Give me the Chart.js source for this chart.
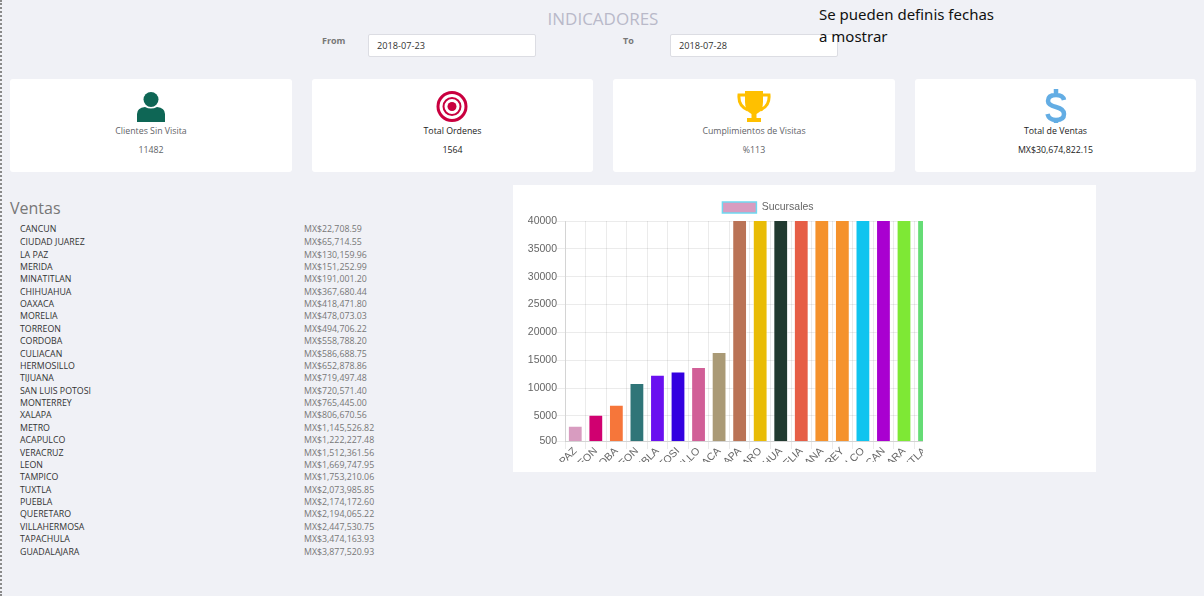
<!DOCTYPE html>
<html>
<head>
<meta charset="utf-8">
<title>Indicadores</title>
<script src="https://cdn.jsdelivr.net/npm/chart.js@4"></script>
<style>
  html, body { margin: 0; padding: 0; }
  body { width: 1204px; height: 596px; position: relative; overflow: hidden; background: #f0f1f6; font-family: "Open Sans", sans-serif; color: #5f6368; }
  .abs { position: absolute; white-space: nowrap; }
  #dots { left: 0; top: 0; width: 0; height: 596px; border-left: 2px dotted #8a8a8a; }
  #title { left: 403px; width: 400px; top: 7px; text-align: center; font-size: 17px; color: #b9b9c9; }
  #note { left: 819px; top: 3px; font-family: "Noto Sans", sans-serif; font-size: 15px; line-height: 22px; color: #111; z-index: 2; }
  .lab { font-size: 9px; font-weight: 700; color: #777; }
  .inp { height: 21px; line-height: 21px; background: #fff; border: 1px solid #dcdde3; border-radius: 2px; font-size: 9.2px; color: #333; padding-left: 8px; }
  .card { top: 79px; height: 93px; background: #fff; border-radius: 3px; text-align: center; font-size: 8.8px; }
  .card svg { position: absolute; top: 10px; left: 50%; margin-left: -18px; width: 36px; height: 36px; overflow: visible; }
  .card .name { position: absolute; top: 46px; left: 0; right: 0; }
  .card .val { position: absolute; top: 65px; left: 0; right: 0; }
  .dark { color: #222; }
  #ventas { left: 10px; top: 197px; font-size: 16px; color: #777; }
  .row { font-size: 8.8px; height: 12px; line-height: 12px; }
  .row.n { left: 20px; color: #333; }
  .row.v { left: 304px; color: #777; }
  #panel { left: 513px; top: 185px; width: 583px; height: 287px; background: #fff; }
  #clip { position: absolute; left: 0; top: 0; width: 410px; height: 277px; overflow: hidden; }
  #wrap { position: absolute; left: 0; top: 0; width: 510px; height: 277px; }
</style>
</head>
<body>
<div id="dots" class="abs"></div>
<div id="title" class="abs">INDICADORES</div>
<div id="note" class="abs">Se pueden definis fechas<br>a mostrar</div>
<div class="abs lab" style="left:322px;top:34px">From</div>
<div class="abs inp" style="left:368px;top:34px;width:158px">2018-07-23</div>
<div class="abs lab" style="left:623px;top:34px">To</div>
<div class="abs inp" style="left:670px;top:34px;width:158px">2018-07-28</div>

<div class="abs card" style="left:10px;width:282px">
  <svg viewBox="0 0 36 36"><circle cx="18" cy="10.5" r="7.5" fill="#0e6655"/><path d="M4 33 V25 Q4 19 12 18 Q18 21 24 18 Q32 19 32 25 V33 Z" fill="#0e6655"/></svg>
  <div class="name">Clientes Sin Visita</div><div class="val">11482</div>
</div>
<div class="abs card dark" style="left:312px;width:281px">
  <svg viewBox="0 0 36 36" style="margin-left:-18.5px"><circle cx="18" cy="17.5" r="14" fill="none" stroke="#c9003f" stroke-width="3"/><circle cx="18" cy="17.5" r="8.5" fill="none" stroke="#c9003f" stroke-width="2"/><circle cx="18" cy="17.5" r="4.5" fill="#c9003f"/></svg>
  <div class="name">Total Ordenes</div><div class="val">1564</div>
</div>
<div class="abs card" style="left:613px;width:282px">
  <svg viewBox="0 0 36 36"><path d="M9 2 H27 V13 Q27 22 20.5 25 V29 H25 V33 H11 V29 H15.5 V25 Q9 22 9 13 Z" fill="#ffc000"/><path d="M9 6 H3 Q2 17 12 21 M27 6 H33 Q34 17 24 21" fill="none" stroke="#ffc000" stroke-width="3"/></svg>
  <div class="name">Cumplimientos de Visitas</div><div class="val">%113</div>
</div>
<div class="abs card dark" style="left:915px;width:281px">
  <svg viewBox="0 0 36 36"><path d="M18 0 V6 M18 31 V34 M26 11 Q25 6 18 6 Q10 6 10 12 Q10 16 18 18 Q26 20 26 25 Q26 31 18 31 Q11 31 9.5 25" fill="none" stroke="#63ade4" stroke-width="4.5"/></svg>
  <div class="name">Total de Ventas</div><div class="val">MX$30,674,822.15</div>
</div>

<div id="ventas" class="abs">Ventas</div>
<div id="table"></div>

<div id="panel" class="abs">
  <div id="clip"><div id="wrap"><canvas id="chart"></canvas></div></div>
</div>

<script>
const branchNames = ["CANCUN", "CIUDAD JUAREZ", "LA PAZ", "MERIDA", "MINATITLAN", "CHIHUAHUA", "OAXACA", "MORELIA", "TORREON", "CORDOBA", "CULIACAN", "HERMOSILLO", "TIJUANA", "SAN LUIS POTOSI", "MONTERREY", "XALAPA", "METRO", "ACAPULCO", "VERACRUZ", "LEON", "TAMPICO", "TUXTLA", "PUEBLA", "QUERETARO", "VILLAHERMOSA", "TAPACHULA", "GUADALAJARA"];
const branchSales = ["MX$22,708.59", "MX$65,714.55", "MX$130,159.96", "MX$151,252.99", "MX$191,001.20", "MX$367,680.44", "MX$418,471.80", "MX$478,073.03", "MX$494,706.22", "MX$558,788.20", "MX$586,688.75", "MX$652,878.86", "MX$719,497.48", "MX$720,571.40", "MX$765,445.00", "MX$806,670.56", "MX$1,145,526.82", "MX$1,222,227.48", "MX$1,512,361.56", "MX$1,669,747.95", "MX$1,753,210.06", "MX$2,073,985.85", "MX$2,174,172.60", "MX$2,194,065.22", "MX$2,447,530.75", "MX$3,474,163.93", "MX$3,877,520.93"];
const rowTops = [223, 236, 249, 261, 273, 286, 298, 310, 323, 335, 348, 360, 372, 385, 397, 409, 422, 434, 447, 459, 471, 484, 496, 508, 521, 533, 546];

// the last four bars fall outside the visible part of the canvas
const categories = ["LA PAZ", "TORREON", "CORDOBA", "LEON", "PUEBLA", "SAN LUIS POTOSI", "HERMOSILLO", "OAXACA", "XALAPA", "QUERETARO", "CHIHUAHUA", "MORELIA", "TIJUANA", "MONTERREY", "ACAPULCO", "CULIACAN", "GUADALAJARA", "TUXTLA", "VERACRUZ", "METRO", "VILLAHERMOSA", "TAPACHULA"];
const barValues = [3250, 5200, 7000, 10900, 12400, 13000, 13800, 16500, 806670, 2194065, 367680, 478073, 719497, 765445, 1222227, 586688, 3877520, 2073985, 1512361, 1145526, 2447530, 3474163];
const barColors = ["#d89cc0", "#d00070", "#f6763a", "#2f7578", "#6a10f0", "#3300e0", "#d15f97", "#aa9a76", "#ba7356", "#e9bc05", "#213a30", "#e65e46", "#f5922c", "#f5922c", "#10c4ef", "#a900d0", "#7ee835", "#65dc75", "#2f7578", "#e9bc05", "#d15f97", "#10c4ef"];
const yTicks = [500, 5000, 10000, 15000, 20000, 25000, 30000, 35000, 40000];

const table = document.getElementById("table");
branchNames.forEach((name, i) => {
  table.insertAdjacentHTML("beforeend",
    `<div class="abs row n" style="top:${rowTops[i]}px">${name}</div>` +
    `<div class="abs row v" style="top:${rowTops[i]}px">${branchSales[i]}</div>`);
});

Chart.defaults.font.family = '"Liberation Sans", Arial, sans-serif';
Chart.defaults.font.size = 10.5;
Chart.defaults.color = "#666";

new Chart(document.getElementById("chart"), {
  type: "bar",
  data: {
    labels: categories,
    datasets: [{
      label: "Sucursales",
      data: barValues,
      backgroundColor: barColors,
      borderColor: "rgba(255,255,255,0.5)",
      borderWidth: 1,
    }],
  },
  options: {
    responsive: true,
    maintainAspectRatio: false,
    animation: false,
    layout: { padding: { top: 12.6, left: 6, right: 6 } },
    plugins: {
      legend: {
        maxHeight: 23.4,
        labels: {
          boxWidth: 34,
          boxHeight: 11,
          padding: 4.4,
          generateLabels: (chart) => [{
            text: chart.data.datasets[0].label,
            fillStyle: barColors[0],
            strokeStyle: "#6fd8f0",
            lineWidth: 1.5,
            fontColor: "#666",
            datasetIndex: 0,
          }],
        },
        onClick: null,
      },
    },
    scales: {
      x: {
        afterFit: (axis) => { axis.height = 21; },
        ticks: { minRotation: 45, maxRotation: 45, autoSkip: false, padding: -4 },
        grid: { color: "rgba(0,0,0,0.08)" },
      },
      y: {
        min: 500,
        max: 40000,
        afterFit: (axis) => { axis.width = 46; },
        afterBuildTicks: (axis) => { axis.ticks = yTicks.map((value) => ({ value })); },
        ticks: { padding: 0, callback: (value) => String(value) },
        grid: { color: "rgba(0,0,0,0.08)" },
      },
    },
  },
});
</script>
</body>
</html>
